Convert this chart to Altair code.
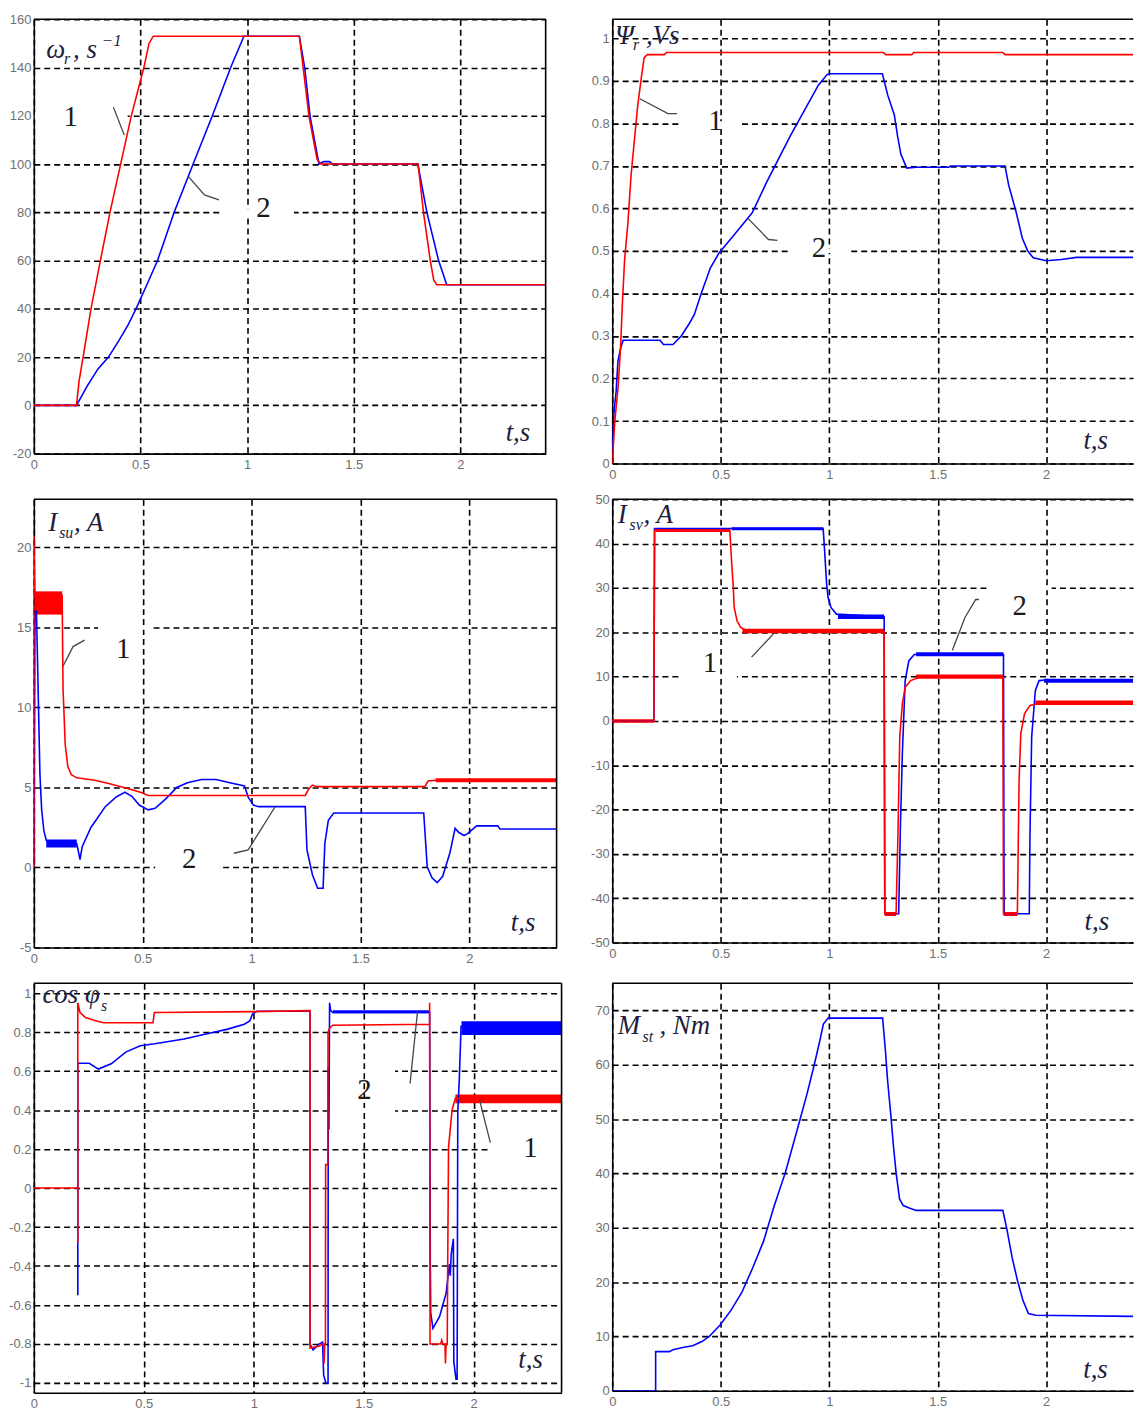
import altair as alt
import pandas as pd

RED = "#ff0000"
BLUE = "#0000ff"
SERIF = "Liberation Serif"
SANS = "Liberation Sans"
INK = "#1e1e3c"
LEAD = "#444444"
X_TICKS = [0, 0.5, 1, 1.5, 2]
T_MAX = 2.4

# ---------------- Panel 1: rotor speed omega_r ----------------
w_t_red = [0.0, 0.2, 0.212, 0.231, 0.268, 0.312, 0.357, 0.407, 0.457, 0.516, 0.54, 0.56,
           1.245, 1.263, 1.29, 1.328, 1.345, 1.802, 1.827, 1.859, 1.875, 1.889, 2.4]
w_v_red = [0, 0, 10, 20, 40, 60, 80, 100, 120, 140, 150, 153,
           153, 140, 120, 102, 100, 100, 80, 60, 52, 50, 50]
w_t_blue = [0.0, 0.2, 0.25, 0.3, 0.35, 0.4, 0.44, 0.479, 0.53, 0.58, 0.658, 0.747, 0.837, 0.923, 0.985,
            1.245, 1.27, 1.295, 1.337, 1.36, 1.387, 1.40, 1.80, 1.809, 1.843, 1.898, 1.936, 2.4]
w_v_blue = [0, 0, 8, 15, 20, 27, 33, 40, 50, 60, 80, 100, 120, 140, 153,
            153, 140, 120, 100, 101, 101, 100, 100, 96, 80, 60, 50, 50]

# ---------------- Panel 2: rotor flux Psi_r ----------------
f_t_red = [0.0, 0.012, 0.027, 0.038, 0.047, 0.057, 0.072, 0.087, 0.102, 0.117, 0.132, 0.147, 0.162,
           0.24, 0.25, 1.25, 1.26, 1.38, 1.39, 1.8, 1.81, 2.4]
f_v_red = [0.0, 0.1, 0.18, 0.27, 0.38, 0.48, 0.565, 0.68, 0.76, 0.84, 0.9, 0.955, 0.962,
           0.962, 0.967, 0.967, 0.962, 0.962, 0.967, 0.967, 0.962, 0.962]
f_t_blue = [0.0, 0.008, 0.018, 0.026, 0.038, 0.05, 0.22, 0.236, 0.28, 0.318, 0.356, 0.378, 0.41,
            0.452, 0.493, 0.565, 0.645, 0.71, 0.76, 0.82, 0.885, 0.95, 0.99, 1.0, 1.245, 1.27, 1.3,
            1.315, 1.33, 1.357, 1.4, 1.55, 1.56, 1.81, 1.827, 1.86, 1.89, 1.915, 1.94, 2.0, 2.07,
            2.14, 2.4]
f_v_blue = [0.03, 0.12, 0.17, 0.24, 0.27, 0.29, 0.29, 0.28, 0.28, 0.3, 0.33, 0.35, 0.4,
            0.46, 0.496, 0.54, 0.59, 0.66, 0.71, 0.77, 0.83, 0.89, 0.915, 0.917, 0.917, 0.866, 0.82,
            0.77, 0.728, 0.695, 0.697, 0.697, 0.70, 0.70, 0.655, 0.594, 0.53, 0.5, 0.484, 0.477, 0.48,
            0.485, 0.485]

# ---------------- Panel 3: stator current I_su ----------------
iu_t_red = [0.0, 0.0, 0.005, 0.13, 0.134, 0.144, 0.156, 0.172, 0.197, 0.28, 0.344, 0.426, 0.49,
            0.525, 1.246, 1.262, 1.279, 1.30, 1.795, 1.81, 1.845, 2.4]
iu_v_red = [0.0, 20.7, 17.0, 17.0, 11.2, 7.7, 6.3, 5.8, 5.6, 5.45, 5.25, 4.95, 4.7,
            4.5, 4.5, 4.9, 5.15, 5.05, 5.05, 5.4, 5.45, 5.45]
iu_t_blue = [0.0, 0.005, 0.012, 0.016, 0.028, 0.036, 0.046, 0.057, 0.074, 0.197, 0.212, 0.222,
             0.262, 0.328, 0.377, 0.418, 0.45, 0.484, 0.525, 0.557, 0.607, 0.656, 0.705, 0.77,
             0.836, 0.9, 0.967, 0.984, 1.008, 1.033, 1.246, 1.254, 1.279, 1.303, 1.328, 1.336,
             1.352, 1.377, 1.79, 1.806, 1.828, 1.852, 1.877, 1.91, 1.934, 1.95, 1.975, 1.99,
             2.033, 2.13, 2.14, 2.4]
iu_v_blue = [0.0, 16.0, 16.0, 13.5, 5.8, 3.6, 2.3, 1.7, 1.5, 1.5, 0.5, 1.3,
             2.5, 3.8, 4.4, 4.7, 4.45, 3.9, 3.6, 3.7, 4.3, 5.0, 5.3, 5.5,
             5.5, 5.3, 5.1, 4.4, 3.9, 3.8, 3.8, 1.1, -0.45, -1.3, -1.3, 1.5,
             2.95, 3.4, 3.4, 0.05, -0.65, -0.95, -0.55, 0.9, 2.45, 2.2, 2.0, 2.1,
             2.6, 2.6, 2.4, 2.4]
# noise envelopes (t0, t1, low, high)
iu_band_red = [(0.005, 0.13, 15.8, 17.25), (1.845, 2.4, 5.33, 5.58)]
iu_band_blue = [(0.057, 0.197, 1.25, 1.75)]

# ---------------- Panel 4: stator current I_sv ----------------
iv_t_red = [0.0, 0.192, 0.195, 0.542, 0.55, 0.558, 0.562, 0.575, 0.592, 0.625, 1.253, 1.256,
            1.308, 1.317, 1.325, 1.337, 1.35, 1.375, 1.425, 1.8, 1.803, 1.867, 1.875, 1.883,
            1.9, 1.925, 1.975, 2.4]
iv_v_red = [0, 0, 43, 43, 36, 30, 25.6, 22.6, 21.1, 20.3, 20.3, -43.5,
            -43.5, -25, -3.6, 3.9, 7.6, 9.1, 10, 10, -43.5, -43.5, -13.3, -2.8,
            1.6, 3.5, 4, 4]
iv_t_blue = [0.0, 0.192, 0.195, 0.972, 0.978, 0.988, 0.995, 1.008, 1.033, 1.253, 1.256, 1.32,
             1.328, 1.337, 1.35, 1.367, 1.392, 1.803, 1.806, 1.922, 1.925, 1.933, 1.95, 1.967,
             1.992, 2.4]
iv_v_blue = [0, 0, 43.4, 43.4, 39, 30.8, 27.8, 25.6, 24.1, 23.5, -43.5, -43.5,
             -23.8, -7.3, 9.1, 13.6, 15.0, 15.0, -43.5, -43.5, -26, -3.6, 6.9, 9.1,
             9.2, 9.2]
iv_band_red = [(0.0, 0.192, -0.4, 0.4), (0.2, 0.542, 42.6, 43.5), (0.6, 1.253, 19.8, 20.8),
               (1.256, 1.308, -44.0, -43.1), (1.40, 1.8, 9.5, 10.5), (1.803, 1.867, -44.0, -43.1),
               (1.95, 2.4, 3.6, 4.6)]
iv_band_blue = [(0.55, 0.972, 43.0, 43.7), (1.04, 1.253, 23.0, 24.0), (1.40, 1.803, 14.6, 15.5),
                (1.99, 2.4, 8.6, 9.5)]

# ---------------- Panel 5: power factor cos phi_s ----------------
c_t_red = [0.0, 0.2, 0.2, 0.2, 0.21, 0.235, 0.285, 0.318, 0.542, 0.548, 0.56, 1.0, 1.256, 1.256,
           1.30, 1.31, 1.318, 1.32, 1.323, 1.326, 1.327, 1.337, 1.338, 1.345, 1.36, 1.80, 1.80,
           1.802, 1.85, 1.855, 1.86, 1.87, 1.872, 1.875, 1.88, 1.882, 1.886, 1.902, 1.917, 2.4]
c_v_red = [0, 0, -0.28, 0.95, 0.9, 0.874, 0.857, 0.848, 0.848, 0.9, 0.9, 0.905, 0.91, -0.82,
           -0.81, -0.80, -0.80, -0.90, -0.80, -0.80, 0.12, 0.12, 0.80, 0.82, 0.835, 0.84, 0.95,
           -0.80, -0.80, -0.78, -0.80, -0.80, -0.90, -0.80, -0.80, -0.42, 0.21, 0.40, 0.46, 0.46]
c_t_blue = [0.2, 0.2, 0.21, 0.252, 0.293, 0.352, 0.418, 0.484, 0.55, 0.683, 0.783, 0.882, 0.957,
            0.982, 0.995, 1.015, 1.256, 1.256, 1.27, 1.297, 1.313, 1.318, 1.328, 1.338, 1.339,
            1.342, 1.345, 1.35, 1.36, 1.80, 1.803, 1.805, 1.815, 1.845, 1.875, 1.89, 1.894, 1.898,
            1.908, 1.91, 1.92, 1.925, 1.928, 1.935, 1.943, 2.4]
c_v_blue = [-0.55, 0.64, 0.64, 0.64, 0.61, 0.637, 0.697, 0.73, 0.74, 0.764, 0.79, 0.815, 0.84,
            0.857, 0.894, 0.907, 0.907, -0.80, -0.83, -0.80, -0.79, -0.96, -1.0, -1.0, 0.62,
            0.3, 0.95, 0.91, 0.90, 0.90, -0.38, -0.64, -0.72, -0.66, -0.54, -0.39, -0.45, -0.34,
            -0.26, -0.89, -0.98, -0.98, 0.39, 0.56, 0.83, 0.82]
c_band_red = [(1.917, 2.4, 0.435, 0.48)]
c_band_blue = [(1.36, 1.8, 0.897, 0.912), (1.945, 2.4, 0.785, 0.855)]

# ---------------- Panel 6: load torque M_st ----------------
m_t = [0.0, 0.2, 0.2, 0.263, 0.28, 0.33, 0.371, 0.413, 0.447, 0.497, 0.547, 0.597, 0.647, 0.697,
       0.747, 0.798, 0.848, 0.898, 0.931, 0.957, 0.973, 0.995, 1.246, 1.258, 1.269, 1.283, 1.296,
       1.308, 1.324, 1.341, 1.366, 1.4, 1.8, 1.818, 1.843, 1.868, 1.893, 1.918, 1.952, 2.4]
m_v = [0, 0, 7.2, 7.2, 7.55, 8.0, 8.3, 9.06, 10, 12.1, 14.8, 18.1, 22.6, 27.5,
       34.1, 40.2, 47.4, 54.7, 60, 64.5, 67.5, 68.6, 68.6, 63.1, 57.1, 51.1, 45,
       40.2, 35.3, 34.1, 33.7, 33.2, 33.2, 29.9, 24.5, 20.2, 16.6, 14.2, 13.9, 13.7]


def df_line(t, v):
    return pd.DataFrame({"t": t, "v": v, "i": list(range(len(t)))})


def panel(w, h, ydom, yticks, reds, blues, bands_r, bands_b, masks, labels, leaders,
          title_anchor, title_parts, ts_anchor, left_col):
    xs = alt.Scale(domain=[0, T_MAX], nice=False, zero=False)
    ys = alt.Scale(domain=ydom, nice=False, zero=False)
    expr = "replace(format(datum.value, '~g'), '\u2212', '-')"
    xax = alt.Axis(values=X_TICKS, title=None, labelExpr=expr, labelFlush=False)
    yax = alt.Axis(values=yticks, title=None, labelExpr=expr)

    def X(f):
        return alt.X(f, type="quantitative", scale=xs, axis=xax)

    def Y(f):
        return alt.Y(f, type="quantitative", scale=ys, axis=yax)

    layers = []
    if masks:
        d = pd.DataFrame(masks, columns=["t0", "t1", "lo", "hi"])
        layers.append(alt.Chart(d).mark_rect(color="white").encode(
            x=X("t0"), x2="t1", y=Y("lo"), y2="hi"))
    for bands, col in ((bands_b, BLUE), (bands_r, RED)):
        if bands:
            d = pd.DataFrame(bands, columns=["t0", "t1", "lo", "hi"])
            layers.append(alt.Chart(d).mark_rect(color=col).encode(
                x=X("t0"), x2="t1", y=Y("lo"), y2="hi"))
    for series, col in ((blues, BLUE), (reds, RED)):
        if series:
            layers.append(alt.Chart(df_line(*series)).mark_line(
                color=col, strokeWidth=1.6, clip=True).encode(
                x=X("t"), y=Y("v"), order="i:Q"))
    if leaders:
        rows = []
        for k, pts in enumerate(leaders):
            for j, (tt, vv) in enumerate(pts):
                rows.append({"t": tt, "v": vv, "id": k, "i": j})
        layers.append(alt.Chart(pd.DataFrame(rows)).mark_line(
            color=LEAD, strokeWidth=1.3).encode(
            x=X("t"), y=Y("v"), detail="id:N", order="i:Q"))
    for (tt, vv, txt) in labels:
        d = pd.DataFrame({"t": [tt], "v": [vv]})
        layers.append(alt.Chart(d).mark_text(
            text=txt, font=SERIF, fontSize=29, color="#1a1a1a",
            align="center", baseline="middle").encode(x=X("t"), y=Y("v")))
    ta = pd.DataFrame({"t": [title_anchor[0]], "v": [title_anchor[1]]})
    for (txt, dx, dy, size) in title_parts:
        layers.append(alt.Chart(ta).mark_text(
            text=txt, font=SERIF, fontStyle="italic", fontSize=size, color=INK,
            align="left", baseline="alphabetic", dx=dx, dy=dy).encode(x=X("t"), y=Y("v")))
    tsd = pd.DataFrame({"t": [ts_anchor[0]], "v": [ts_anchor[1]]})
    layers.append(alt.Chart(tsd).mark_text(
        text="t,s", font=SERIF, fontStyle="italic", fontSize=27, color=INK,
        align="center", baseline="middle").encode(x=X("t"), y=Y("v")))
    one = pd.DataFrame({"a": [0]})
    layers.append(alt.Chart(one).mark_rule(color="black", strokeWidth=1.6).encode(
        y=alt.value(0)))
    if left_col:
        layers.append(alt.Chart(one).mark_rule(color="black", strokeWidth=1.6).encode(
            x=alt.value(w)))
    return alt.layer(*layers).properties(width=w, height=h)


p1 = panel(515, 437, [-20, 160], list(range(-20, 161, 20)),
           (w_t_red, w_v_red), (w_t_blue, w_v_blue), [], [],
           [(0.005, 0.44, 118.5, 121.5), (0.876, 1.22, 78.5, 81.5)],
           [(0.173, 119.5, "1"), (1.077, 81.7, "2")],
           [[(0.373, 123.6), (0.424, 112)], [(0.725, 94.8), (0.80, 87.2), (0.868, 85.2)]],
           (0.058, 144), [("ω", 0, 0, 27), ("r", 18, 6, 16), (", s", 27, 0, 27), ("−1", 56, -12, 17)],
           (2.27, -11.5), True)

p2 = panel(524, 447, [0, 1.045], [0, 0.1, 0.2, 0.3, 0.4, 0.5, 0.6, 0.7, 0.8, 0.9, 1.0],
           (f_t_red, f_v_red), (f_t_blue, f_v_blue), [], [],
           [(0.314, 0.598, 0.795, 0.805), (0.818, 1.094, 0.495, 0.505)],
           [(0.476, 0.805, "1"), (0.953, 0.508, "2")],
           [[(0.127, 0.858), (0.257, 0.823), (0.298, 0.823)],
            [(0.623, 0.578), (0.72, 0.527), (0.761, 0.525)]],
           (0.013, 0.987), [("Ψ", 0, 0, 27), ("r", 18, 6, 16), (",Vs", 31, 0, 27)],
           (2.228, 0.052), False)

p3 = panel(526, 451, [-5, 23], [-5, 0, 5, 10, 15, 20],
           (iu_t_red, iu_v_red), (iu_t_blue, iu_v_blue), iu_band_red, iu_band_blue,
           [(0.295, 0.533, 14.85, 15.15), (0.557, 0.852, -0.15, 0.15)],
           [(0.41, 13.66, "1"), (0.713, 0.52, "2")],
           [[(0.134, 12.57), (0.18, 13.8), (0.233, 14.2)],
            [(1.107, 3.78), (0.984, 1.1), (0.918, 0.89)]],
           (0.066, 21.0), [("I", 0, 0, 27), ("su", 11, 7, 16), (", A", 26, 0, 27)],
           (2.246, -3.45), True)

p4 = panel(524, 446, [-50, 50], list(range(-50, 51, 10)),
           (iv_t_red, iv_v_red), (iv_t_blue, iv_v_blue), iv_band_red, iv_band_blue,
           [(0.308, 0.575, 9.5, 10.5), (1.733, 2.025, 29.5, 30.5)],
           [(0.45, 13.0, "1"), (1.878, 25.95, "2")],
           [[(0.642, 14.4), (0.742, 19.6)],
            [(1.567, 15.9), (1.625, 23.3), (1.675, 27.4), (1.69, 27.4)]],
           (0.025, 44.6), [("I", 0, 0, 27), ("sv", 12, 7, 16), (", A", 26, 0, 27)],
           (2.233, -45.3), False)

p5 = panel(531, 412, [-1.05, 1.05], [-1, -0.8, -0.6, -0.4, -0.2, 0, 0.2, 0.4, 0.6, 0.8, 1],
           (c_t_red, c_v_red), (c_t_blue, c_v_blue), c_band_red, c_band_blue,
           [(1.35, 1.643, 0.59, 0.61), (1.35, 1.643, 0.39, 0.41), (2.076, 2.4, 0.19, 0.21)],
           [(1.504, 0.503, "2"), (2.259, 0.207, "1")],
           [[(1.711, 0.536), (1.745, 0.907)], [(2.076, 0.233), (2.027, 0.452)]],
           (0.039, 0.949), [("cos φ", 0, 0, 27), ("s", 59, 8, 16)],
           (2.259, -0.884), True)

p6 = panel(524, 410, [0, 75], list(range(0, 71, 10)),
           None, (m_t, m_v), [], [], [], [], [],
           (0.025, 65.6), [("M", 0, 0, 27), ("st", 25, 8, 16), (", Nm", 42, 0, 27)],
           (2.227, 3.9), False)

chart = alt.concat(p1, p2, p3, p4, p5, p6, columns=2).properties(
    bounds="flush", align="each", spacing={"row": 36, "column": 51},
    padding={"left": 0, "top": 0, "right": 0, "bottom": 0},
).configure_view(stroke="transparent").configure_axis(
    grid=True, gridColor="black", gridDash=[6, 4], gridWidth=1.6, gridOpacity=1,
    domain=True, domainColor="black", domainWidth=1.6,
    ticks=False, tickSize=0,
    labelFont=SANS, labelFontSize=13, labelColor="#707070",
).configure_axisX(labelPadding=5).configure_axisY(labelPadding=3)

chart.save("out.html", embed_options={"renderer": "svg", "actions": False})
